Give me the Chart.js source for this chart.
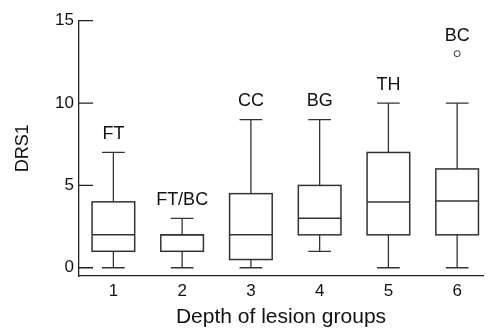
<!DOCTYPE html>
<html>
<head>
<meta charset="utf-8">
<script src="https://cdn.jsdelivr.net/npm/chart.js@4"></script>
<style>
  html, body { margin: 0; padding: 0; background: #fff; }
  #wrap { width: 488px; height: 328px; }
</style>
</head>
<body>
<div id="wrap"><canvas id="myChart" width="488" height="328"></canvas></div>
<script>
// box plot values
const groups = ['1', '2', '3', '4', '5', '6']
const groupNames = ['FT', 'FT/BC', 'CC', 'BG', 'TH', 'BC']
const mins = [0, 0, 0, 1, 0, 0]
const q1s = [1, 1, 0.5, 2, 2, 2]
const medians = [2, 2, 2, 3, 4, 4.05]
const q3s = [4, 2, 4.5, 5, 7, 6]
const maxs = [7, 3, 9, 9, 10, 10]
const outliers = [[], [], [], [], [], [13]]
const yTicks = [0, 5, 10, 15]

const lineColor = '#333'
const fontFamily = '"Liberation Sans", Arial, sans-serif'

let outlierPoints = []
outliers.map((list, i) => {
    list.map((v) => outlierPoints.push({ x: i + 1, y: v }))
})

const boxPlugin = {
    id: 'boxes',
    afterDatasetsDraw(chart) {
        const ctx = chart.ctx
        const x = chart.scales.x
        const y = chart.scales.y
        const step = x.getPixelForValue(2) - x.getPixelForValue(1)
        const boxHalf = step * 0.31
        const capHalf = step * 0.165
        ctx.save()
        ctx.strokeStyle = lineColor
        groups.map((g, i) => {
            const cx = x.getPixelForValue(i + 1)
            const pMin = y.getPixelForValue(mins[i])
            const pQ1 = y.getPixelForValue(q1s[i])
            const pMed = y.getPixelForValue(medians[i])
            const pQ3 = y.getPixelForValue(q3s[i])
            const pMax = y.getPixelForValue(maxs[i])
            // whiskers
            ctx.lineWidth = 1.3
            ctx.beginPath()
            ctx.moveTo(cx, pQ1); ctx.lineTo(cx, pMin)
            ctx.moveTo(cx - capHalf, pMin); ctx.lineTo(cx + capHalf, pMin)
            ctx.moveTo(cx, pQ3); ctx.lineTo(cx, pMax)
            ctx.moveTo(cx - capHalf, pMax); ctx.lineTo(cx + capHalf, pMax)
            ctx.stroke()
            // box + median
            ctx.lineWidth = 1.5
            ctx.strokeRect(cx - boxHalf, pQ3, boxHalf * 2, pQ1 - pQ3)
            ctx.beginPath()
            ctx.moveTo(cx - boxHalf, pMed); ctx.lineTo(cx + boxHalf, pMed)
            ctx.stroke()
            // group label above the highest mark
            let top = maxs[i]
            outliers[i].map((v) => { if (v > top) top = v })
            ctx.fillStyle = '#111'
            ctx.font = '18px ' + fontFamily
            ctx.textAlign = 'center'
            ctx.textBaseline = 'middle'
            ctx.fillText(groupNames[i], cx, y.getPixelForValue(top) - 18)
        })
        // inward tick marks on the y axis
        ctx.strokeStyle = '#222'
        ctx.lineWidth = 1.3
        ctx.beginPath()
        yTicks.map((t) => {
            const py = y.getPixelForValue(t)
            ctx.moveTo(x.left, py); ctx.lineTo(x.left + 14, py)
        })
        ctx.stroke()
        ctx.restore()
    }
}

const ctx = document.getElementById('myChart').getContext('2d')
const myChart = new Chart(ctx, {
    type: 'scatter',
    data: {
        datasets: [
            {
                label: 'Outliers',
                data: outlierPoints,
                pointRadius: 3,
                pointBorderWidth: 1,
                pointBorderColor: lineColor,
                pointBackgroundColor: '#fff'
            }
        ]
    },
    options: {
        responsive: false,
        animation: false,
        layout: { padding: { top: 20.7, right: 0, left: 0, bottom: 0 } },
        plugins: {
            legend: false,
            tooltip: { enabled: false }
        },
        scales: {
            x: {
                type: 'linear',
                min: 0.5,
                max: 6.376,
                afterBuildTicks: (s) => { s.ticks = groups.map((g, i) => ({ value: i + 1 })) },
                afterFit: (s) => { s.height = 52 },
                grid: { display: false, drawTicks: false },
                border: { display: true, color: '#222', width: 1.3 },
                ticks: {
                    padding: 7,
                    color: '#111',
                    font: { family: fontFamily, size: 17, lineHeight: 1 },
                    callback: (v) => groups[v - 1]
                },
                title: {
                    display: true,
                    text: 'Depth of lesion groups',
                    color: '#111',
                    font: { family: fontFamily, size: 21, lineHeight: 1 },
                    padding: { top: 0, bottom: 0 }
                }
            },
            y: {
                min: -0.5,
                max: 15,
                afterBuildTicks: (s) => { s.ticks = yTicks.map((t) => ({ value: t })) },
                afterFit: (s) => { s.width = 79 },
                grid: { display: false, drawTicks: false },
                border: { display: true, color: '#222', width: 1.3 },
                ticks: {
                    padding: 5,
                    color: '#111',
                    font: { family: fontFamily, size: 17 }
                },
                title: {
                    display: true,
                    text: 'DRS1',
                    color: '#111',
                    font: { family: fontFamily, size: 18 },
                    padding: { top: 12, bottom: 0 }
                }
            }
        }
    },
    plugins: [boxPlugin]
})
</script>
</body>
</html>
